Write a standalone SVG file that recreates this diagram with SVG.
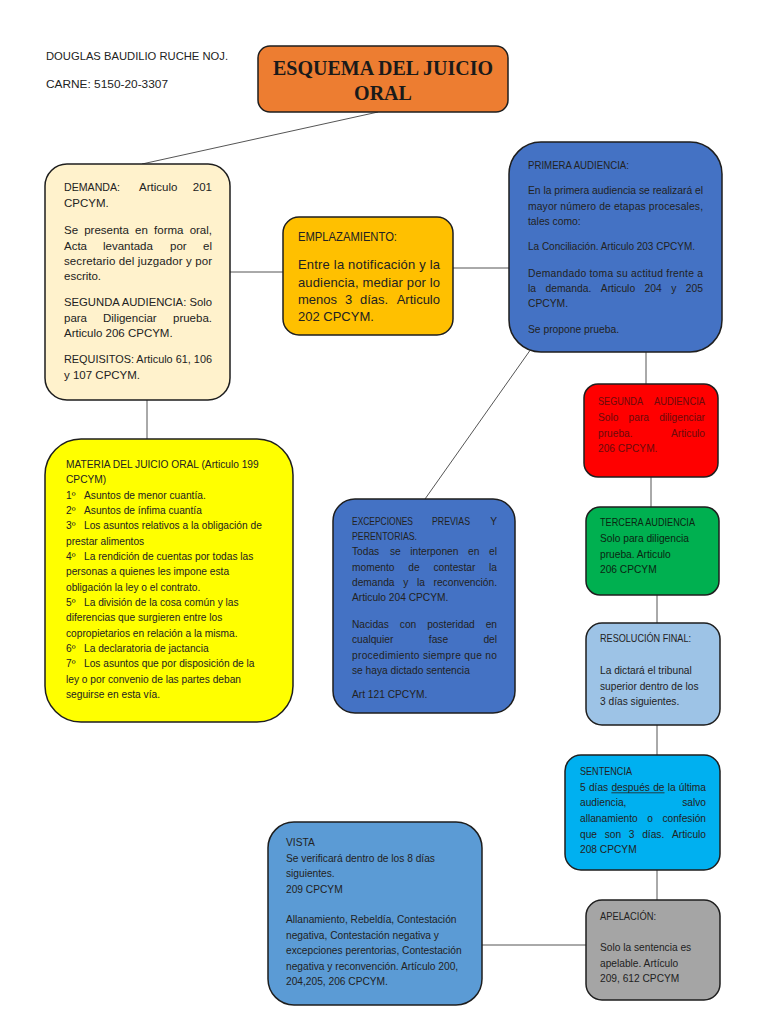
<svg xmlns="http://www.w3.org/2000/svg" width="768" height="1024" viewBox="0 0 768 1024">
<style>
.box{stroke:#1e1e1e;stroke-width:1.5}
.t{font-family:"Liberation Sans",Arial,sans-serif;fill:#222}
.hd{font-size:11px;fill:#222}
.d{font-size:11.5px}
.e{font-size:13px}
.s{font-size:10.3px}
.m{font-size:10.2px}
.red{fill:#6b0b0b}
.grn{fill:#0b2612}
.title{font-family:"Liberation Serif","Times New Roman",serif;font-weight:bold;font-size:20px;fill:#1a1a1a}
.c{stroke:#555;stroke-width:1;fill:none}
</style>
<rect width="768" height="1024" fill="#ffffff"/>

<g id="header" class="t hd">
<text x="46" y="60" textLength="182" lengthAdjust="spacingAndGlyphs">DOUGLAS BAUDILIO RUCHE NOJ.</text>
<text x="46" y="88" textLength="122" lengthAdjust="spacingAndGlyphs">CARNE: 5150-20-3307</text>
</g>

<g id="connectors">
<line class="c" x1="378" y1="112" x2="142" y2="164"/>
<line class="c" x1="230" y1="272" x2="283" y2="272"/>
<line class="c" x1="147" y1="400" x2="147" y2="439"/>
<line class="c" x1="453" y1="268" x2="509" y2="268"/>
<line class="c" x1="531" y1="349" x2="425" y2="499"/>
<line class="c" x1="646" y1="352" x2="646" y2="384"/>
<line class="c" x1="651" y1="477" x2="651" y2="507"/>
<line class="c" x1="657" y1="595" x2="657" y2="623"/>
<line class="c" x1="657" y1="725" x2="657" y2="755"/>
<line class="c" x1="657" y1="870" x2="657" y2="900"/>
<line class="c" x1="482" y1="945" x2="586" y2="945"/>
</g>

<g id="title">
<rect class="box" x="258" y="46" width="250" height="66" rx="12" fill="#ED7D31"/>
<text class="title" x="383" y="75" text-anchor="middle">ESQUEMA DEL JUICIO</text>
<text class="title" x="383" y="100" text-anchor="middle">ORAL</text>
</g>

<g id="demanda">
<rect class="box" x="45" y="164" width="185" height="236" rx="22" fill="#FFF2CC"/>
<g class="t d">
<text y="191"><tspan x="64" textLength="56" lengthAdjust="spacingAndGlyphs">DEMANDA:</tspan></text>
<text x="139" y="191">Articulo</text>
<text x="212" y="191" text-anchor="end">201</text>
<text x="64" y="207">CPCYM.</text>
<text y="234"><tspan x="64">Se</tspan><tspan x="84.2">presenta</tspan><tspan x="135.1">en</tspan><tspan x="154.1">forma</tspan></text>
<text x="212" y="234" text-anchor="end">oral,</text>
<text y="250"><tspan x="64">Acta</tspan><tspan x="103">levantada</tspan><tspan x="170">por</tspan><tspan x="203">el</tspan></text>
<text x="64" y="265" textLength="148" lengthAdjust="spacing">secretario del juzgador y por</text>
<text x="64" y="280">escrito.</text>
<text x="64" y="306" textLength="148" lengthAdjust="spacingAndGlyphs">SEGUNDA AUDIENCIA: Solo</text>
<text y="322"><tspan x="64">para</tspan><tspan x="103">Diligenciar</tspan><tspan x="173">prueba.</tspan></text>
<text x="64" y="337">Articulo 206 CPCYM.</text>
<text x="64" y="363" textLength="148" lengthAdjust="spacingAndGlyphs">REQUISITOS: Articulo 61, 106</text>
<text x="64" y="379">y 107 CPCYM.</text>
</g>
</g>

<g id="emplazamiento">
<rect class="box" x="283" y="217" width="170" height="118" rx="16" fill="#FFC000"/>
<g class="t e">
<text x="298" y="241" textLength="99" lengthAdjust="spacingAndGlyphs">EMPLAZAMIENTO:</text>
<text x="298" y="269" textLength="142" lengthAdjust="spacing">Entre la notificación y la</text>
<text x="298" y="287" textLength="142" lengthAdjust="spacing">audiencia, mediar por lo</text>
<text y="304"><tspan x="298">menos</tspan><tspan x="345">3</tspan><tspan x="360">días.</tspan></text>
<text x="440" y="304" text-anchor="end">Articulo</text>
<text x="298" y="321">202 CPCYM.</text>
</g>
</g>

<g id="primera-audiencia">
<rect class="box" x="509" y="142" width="213" height="210" rx="32" fill="#4472C4"/>
<g class="t s">
<text x="528" y="169" textLength="101" lengthAdjust="spacingAndGlyphs">PRIMERA AUDIENCIA:</text>
<text x="528" y="194" textLength="175" lengthAdjust="spacing">En la primera audiencia se realizará el</text>
<text x="528" y="210" textLength="175" lengthAdjust="spacing">mayor número de etapas procesales,</text>
<text x="528" y="225">tales como:</text>
<text x="528" y="250" textLength="167" lengthAdjust="spacingAndGlyphs">La Conciliación. Articulo 203 CPCYM.</text>
<text x="528" y="277" textLength="175" lengthAdjust="spacing">Demandado toma su actitud frente a</text>
<text y="292"><tspan x="528">la</tspan><tspan x="545.5">demanda.</tspan><tspan x="600.8">Articulo</tspan><tspan x="644.6">204</tspan><tspan x="671.3">y</tspan></text>
<text x="703" y="292" text-anchor="end">205</text>
<text x="528" y="307">CPCYM.</text>
<text x="528" y="333">Se propone prueba.</text>
</g>
</g>

<g id="materia">
<rect class="box" x="45" y="439" width="248" height="283" rx="36" fill="#FFFF00"/>
<g class="t m">
<text x="66" y="468">MATERIA DEL JUICIO ORAL (Articulo 199</text>
<text x="66" y="483">CPCYM)</text>
<text y="499"><tspan x="66">1º</tspan><tspan x="84">Asuntos de menor cuantía.</tspan></text>
<text y="514"><tspan x="66">2º</tspan><tspan x="84">Asuntos de ínfima cuantía</tspan></text>
<text y="529"><tspan x="66">3º</tspan><tspan x="84">Los asuntos relativos a la obligación de</tspan></text>
<text x="66" y="545">prestar alimentos</text>
<text y="560"><tspan x="66">4º</tspan><tspan x="84">La rendición de cuentas por todas las</tspan></text>
<text x="66" y="575">personas a quienes les impone esta</text>
<text x="66" y="591">obligación la ley o el contrato.</text>
<text y="606"><tspan x="66">5º</tspan><tspan x="84">La división de la cosa común y las</tspan></text>
<text x="66" y="621">diferencias que surgieren entre los</text>
<text x="66" y="637">copropietarios en relación a la misma.</text>
<text y="652"><tspan x="66">6º</tspan><tspan x="84">La declaratoria de jactancia</tspan></text>
<text y="667"><tspan x="66">7º</tspan><tspan x="84">Los asuntos que por disposición de la</tspan></text>
<text x="66" y="683">ley o por convenio de las partes deban</text>
<text x="66" y="698">seguirse en esta vía.</text>
</g>
</g>

<g id="excepciones">
<rect class="box" x="333" y="499" width="182" height="214" rx="22" fill="#4472C4"/>
<g class="t m">
<text x="352" y="525" textLength="61" lengthAdjust="spacingAndGlyphs">EXCEPCIONES</text>
<text x="432" y="525" textLength="38" lengthAdjust="spacingAndGlyphs">PREVIAS</text>
<text x="497" y="525" text-anchor="end">Y</text>
<text x="352" y="540" textLength="65" lengthAdjust="spacingAndGlyphs">PERENTORIAS.</text>
<text y="555"><tspan x="352">Todas</tspan><tspan x="389.9">se</tspan><tspan x="410.3">interponen</tspan><tspan x="468.1">en</tspan></text>
<text x="497" y="555" text-anchor="end">el</text>
<text y="571"><tspan x="352">momento</tspan><tspan x="408.3">de</tspan><tspan x="433.4">contestar</tspan></text>
<text x="497" y="571" text-anchor="end">la</text>
<text y="586"><tspan x="352">demanda</tspan><tspan x="403.2">y</tspan><tspan x="417">la</tspan></text>
<text x="497" y="586" text-anchor="end">reconvención.</text>
<text x="352" y="601">Articulo 204 CPCYM.</text>
<text y="628"><tspan x="352">Nacidas</tspan><tspan x="399.8">con</tspan><tspan x="427.2">posteridad</tspan></text>
<text x="497" y="628" text-anchor="end">en</text>
<text x="352" y="643">cualquier</text>
<text x="428.8" y="643">fase</text>
<text x="497" y="643" text-anchor="end">del</text>
<text x="352" y="659" textLength="145" lengthAdjust="spacing">procedimiento siempre que no</text>
<text x="352" y="674">se haya dictado sentencia</text>
<text x="352" y="698">Art 121 CPCYM.</text>
</g>
</g>

<g id="segunda-audiencia">
<rect class="box" x="584" y="384" width="134" height="93" rx="14" fill="#FF0000"/>
<g class="t m red">
<text x="598" y="405" textLength="45" lengthAdjust="spacingAndGlyphs">SEGUNDA</text>
<text x="654" y="405" textLength="51" lengthAdjust="spacingAndGlyphs">AUDIENCIA</text>
<text y="421"><tspan x="598">Solo</tspan><tspan x="628.6">para</tspan></text>
<text x="705" y="421" text-anchor="end">diligenciar</text>
<text x="598" y="437">prueba.</text>
<text x="705" y="437" text-anchor="end">Articulo</text>
<text x="598" y="452">206 CPCYM.</text>
</g>
</g>

<g id="tercera-audiencia">
<rect class="box" x="586" y="507" width="133" height="88" rx="14" fill="#00B050"/>
<g class="t m grn">
<text x="600" y="526" textLength="95" lengthAdjust="spacingAndGlyphs">TERCERA AUDIENCIA</text>
<text x="600" y="542">Solo para diligencia</text>
<text x="600" y="558">prueba. Articulo</text>
<text x="600" y="573">206 CPCYM</text>
</g>
</g>

<g id="resolucion-final">
<rect class="box" x="586" y="623" width="134" height="102" rx="16" fill="#9DC3E6"/>
<g class="t m">
<text x="600" y="642" textLength="91" lengthAdjust="spacingAndGlyphs">RESOLUCIÓN FINAL:</text>
<text x="600" y="674">La dictará el tribunal</text>
<text x="600" y="690">superior dentro de los</text>
<text x="600" y="705">3 días siguientes.</text>
</g>
</g>

<g id="sentencia">
<rect class="box" x="565" y="755" width="155" height="115" rx="16" fill="#00B0F0"/>
<g class="t m">
<text x="580" y="775" textLength="52" lengthAdjust="spacingAndGlyphs">SENTENCIA</text>
<text y="791"><tspan x="580">5</tspan><tspan x="588.9">días</tspan><tspan x="611.4">después</tspan><tspan x="653.2">de</tspan><tspan x="667.7">la</tspan></text>
<text x="706" y="791" text-anchor="end">última</text>
<line x1="611.4" y1="792.8" x2="664.5" y2="792.8" stroke="#222" stroke-width="0.8"/>
<text x="580" y="806">audiencia,</text>
<text x="706" y="806" text-anchor="end">salvo</text>
<text y="822"><tspan x="580">allanamiento</tspan><tspan x="647.3">o</tspan></text>
<text x="706" y="822" text-anchor="end">confesión</text>
<text y="838"><tspan x="580">que</tspan><tspan x="604.7">son</tspan><tspan x="628.8">3</tspan><tspan x="642.2">días.</tspan></text>
<text x="706" y="838" text-anchor="end">Articulo</text>
<text x="580" y="853">208 CPCYM</text>
</g>
</g>

<g id="vista">
<rect class="box" x="268" y="822" width="214" height="183" rx="26" fill="#5B9BD5"/>
<g class="t m">
<text x="286" y="846">VISTA</text>
<text x="286" y="862">Se verificará dentro de los 8 días</text>
<text x="286" y="877">siguientes.</text>
<text x="286" y="893">209 CPCYM</text>
<text x="286" y="923">Allanamiento, Rebeldía, Contestación</text>
<text x="286" y="939">negativa, Contestación negativa y</text>
<text x="286" y="954">excepciones perentorias, Contestación</text>
<text x="286" y="970">negativa y reconvención. Artículo 200,</text>
<text x="286" y="985">204,205, 206 CPCYM.</text>
</g>
</g>

<g id="apelacion">
<rect class="box" x="586" y="900" width="134" height="100" rx="16" fill="#A5A5A5"/>
<g class="t m">
<text x="600" y="920" textLength="56" lengthAdjust="spacingAndGlyphs">APELACIÓN:</text>
<text x="600" y="951">Solo la sentencia es</text>
<text x="600" y="967">apelable. Artículo</text>
<text x="600" y="982">209, 612 CPCYM</text>
</g>
</g>
</svg>
